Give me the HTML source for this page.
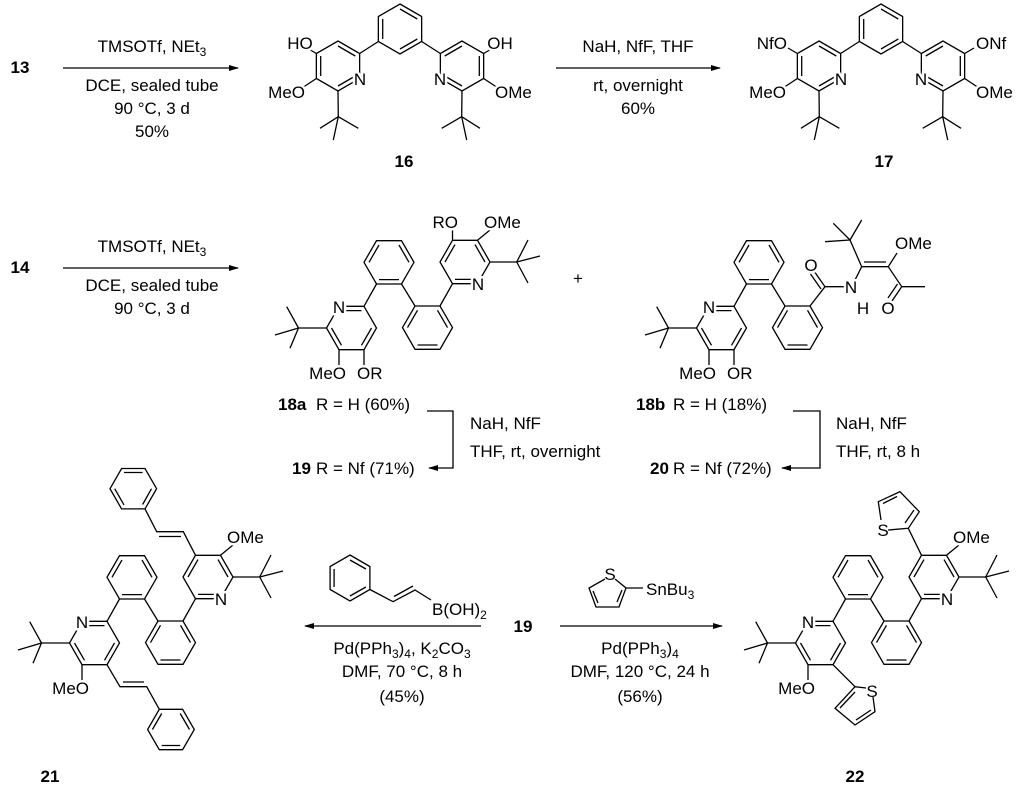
<!DOCTYPE html>
<html><head><meta charset="utf-8"><style>
body{margin:0;background:#fff}
svg{display:block}
text{font-family:"Liberation Sans",Arial,sans-serif;font-size:17px;fill:#000}
.l{stroke:#fff;stroke-width:5;paint-order:stroke}
.b{font-weight:bold}
line,polyline,polygon,path{stroke:#000;stroke-width:1.3;fill:none}
</style></head><body>
<svg width="1024" height="787" viewBox="0 0 1024 787" xmlns="http://www.w3.org/2000/svg">
<defs>
<marker id="ah" markerWidth="10" markerHeight="6" refX="9" refY="3" orient="auto" markerUnits="userSpaceOnUse"><path d="M0,0 L10,3 L0,6 Z" style="fill:#000;stroke:none"/></marker>
<!-- half of 16 (left pyridine) -->
<g id="pyL">
<polygon points="338,41 359.65,53.5 359.65,78.5 338,91 316.35,78.5 316.35,53.5"/>
<line x1="338" y1="46" x2="355.3" y2="56"/><line x1="320.7" y1="56" x2="320.7" y2="76"/><line x1="338" y1="86" x2="355.3" y2="76"/>
<line x1="359.65" y1="53.5" x2="378.35" y2="41.5"/>
<line x1="316.35" y1="53.5" x2="307" y2="48"/>
<line x1="316.35" y1="78.5" x2="302" y2="88"/>
<line x1="338" y1="91" x2="338.3" y2="116.7"/>
<line x1="338.3" y1="116.7" x2="320" y2="128.3"/><line x1="338.3" y1="116.7" x2="358.3" y2="128.3"/><line x1="338.3" y1="116.7" x2="333.3" y2="140"/>
<text x="360" y="85" text-anchor="middle" class="l">N</text>
<text x="305" y="98" text-anchor="end" class="l">MeO</text>
</g>
<g id="m16">
<polygon points="400,4 421.65,16.5 421.65,41.5 400,54 378.35,41.5 378.35,16.5"/>
<line x1="400" y1="9" x2="417.3" y2="19"/><line x1="417.3" y1="39" x2="400" y2="49"/><line x1="382.7" y1="39" x2="382.7" y2="19"/>
<use href="#pyL"/>
<g transform="translate(800,0) scale(-1,1)">
<polygon points="338,41 359.65,53.5 359.65,78.5 338,91 316.35,78.5 316.35,53.5"/>
<line x1="338" y1="46" x2="355.3" y2="56"/><line x1="320.7" y1="56" x2="320.7" y2="76"/><line x1="338" y1="86" x2="355.3" y2="76"/>
<line x1="359.65" y1="53.5" x2="378.35" y2="41.5"/>
<line x1="316.35" y1="53.5" x2="307" y2="48"/>
<line x1="316.35" y1="78.5" x2="302" y2="88"/>
<line x1="338" y1="91" x2="338.3" y2="116.7"/>
<line x1="338.3" y1="116.7" x2="320" y2="128.3"/><line x1="338.3" y1="116.7" x2="358.3" y2="128.3"/><line x1="338.3" y1="116.7" x2="333.3" y2="140"/>
</g>
<text x="440" y="85" text-anchor="middle" class="l">N</text>
<text x="495" y="98" class="l">OMe</text>
</g>
<!-- biaryl core with lower-left pyridine -->
<g id="coreA">
<polygon points="376.5,240.7 401.5,240.7 414,262.3 401.5,284 376.5,284 364,262.3"/>
<line x1="379" y1="279.6" x2="399" y2="279.6"/><line x1="369" y1="262.3" x2="379" y2="245"/><line x1="399" y1="245" x2="409" y2="262.3"/>
<polygon points="415,306 440,306 452.5,327.6 440,349.3 415,349.3 402.5,327.6"/>
<line x1="407.5" y1="327.6" x2="417.5" y2="310.3"/><line x1="437.5" y1="310.3" x2="447.5" y2="327.6"/><line x1="437.5" y1="345" x2="417.5" y2="345"/>
<line x1="401.5" y1="284" x2="415" y2="306"/>
<line x1="376.5" y1="284" x2="364" y2="306.3"/>
<polygon points="364,306.3 376.5,328 364,349.7 339,349.7 326.5,328 339,306.3"/>
<line x1="361.5" y1="310.6" x2="341.5" y2="310.6"/><line x1="371.5" y1="328" x2="361.5" y2="345.3"/><line x1="341.5" y1="345.3" x2="331.5" y2="328"/>
<line x1="326.5" y1="328" x2="298.5" y2="328"/>
<line x1="298.5" y1="328" x2="286.7" y2="306.7"/><line x1="298.5" y1="328" x2="275" y2="335"/><line x1="298.5" y1="328" x2="290" y2="348.3"/>
<line x1="339" y1="349.7" x2="339" y2="366"/>
<text x="339" y="313" text-anchor="middle" class="l">N</text>
<text x="346" y="379" text-anchor="end" class="l">MeO</text>
</g>
<g id="coreB">
<line x1="440" y1="306" x2="452.5" y2="283.7"/>
<polygon points="452.5,240.3 477.5,240.3 490,262 477.5,283.7 452.5,283.7 440,262"/>
<line x1="455" y1="279.4" x2="475" y2="279.4"/><line x1="445" y1="262" x2="455" y2="244.6"/><line x1="475" y1="244.6" x2="485" y2="262"/>
<line x1="477.5" y1="240.3" x2="490" y2="230"/>
<line x1="490" y1="262" x2="516.7" y2="262"/>
<line x1="516.7" y1="262" x2="528" y2="240"/><line x1="516.7" y1="262" x2="540" y2="256"/><line x1="516.7" y1="262" x2="528" y2="283"/>
<text x="478" y="290" text-anchor="middle" class="l">N</text>
<text x="484" y="228" class="l">OMe</text>
</g>
<g id="orLow">
<line x1="364" y1="349.7" x2="364" y2="366"/>
<text x="357" y="379" class="l">OR</text>
</g>
</defs>

<!-- Row 1 -->
<text x="20" y="73" text-anchor="middle" class="b">13</text>
<line x1="63" y1="68" x2="238" y2="68" marker-end="url(#ah)"/>
<text x="152" y="52" text-anchor="middle">TMSOTf, NEt<tspan font-size="12" dy="4">3</tspan></text>
<text x="152" y="91" text-anchor="middle">DCE, sealed tube</text>
<text x="152" y="114" text-anchor="middle">90 °C, 3 d</text>
<text x="152" y="137" text-anchor="middle">50%</text>

<use href="#m16"/>
<text x="300" y="49" text-anchor="middle" class="l">HO</text>
<text x="500" y="49" text-anchor="middle" class="l">OH</text>
<text x="404" y="167" text-anchor="middle" class="b">16</text>

<line x1="556" y1="68" x2="720" y2="68" marker-end="url(#ah)"/>
<text x="638" y="52" text-anchor="middle">NaH, NfF, THF</text>
<text x="638" y="91" text-anchor="middle">rt, overnight</text>
<text x="638" y="114" text-anchor="middle">60%</text>

<g transform="translate(481,0)"><use href="#m16"/></g>
<text x="787" y="49" text-anchor="end" class="l">NfO</text>
<text x="976" y="49" class="l">ONf</text>
<text x="884" y="167" text-anchor="middle" class="b">17</text>

<!-- Row 2 -->
<text x="20" y="273" text-anchor="middle" class="b">14</text>
<line x1="63" y1="268" x2="238" y2="268" marker-end="url(#ah)"/>
<text x="152" y="252" text-anchor="middle">TMSOTf, NEt<tspan font-size="12" dy="4">3</tspan></text>
<text x="152" y="291" text-anchor="middle">DCE, sealed tube</text>
<text x="152" y="314" text-anchor="middle">90 °C, 3 d</text>

<use href="#coreA"/><use href="#coreB"/><use href="#orLow"/>
<line x1="452.5" y1="240.3" x2="452.5" y2="230"/>
<text x="458" y="228" text-anchor="end" class="l">RO</text>

<text x="578" y="284" text-anchor="middle">+</text>

<g transform="translate(370,0)"><use href="#coreA"/><use href="#orLow"/></g>
<!-- amide side of 18b -->
<line x1="810" y1="306" x2="825" y2="286.7"/>
<line x1="825" y1="286.7" x2="814" y2="271"/><line x1="821" y1="289" x2="810.5" y2="274"/>
<text x="811" y="271" text-anchor="middle" class="l">O</text>
<line x1="825" y1="286.7" x2="844" y2="286.7"/>
<line x1="855" y1="280" x2="861.7" y2="266.7"/>
<line x1="861.7" y1="266.7" x2="888.3" y2="266.7"/><line x1="864" y1="262" x2="886" y2="262"/>
<line x1="861.7" y1="266.7" x2="850" y2="240"/>
<line x1="850" y1="240" x2="825" y2="241.7"/><line x1="850" y1="240" x2="833.3" y2="223.3"/><line x1="850" y1="240" x2="861.7" y2="220"/>
<line x1="888.3" y1="266.7" x2="897" y2="253"/>
<text x="895" y="249" class="l">OMe</text>
<line x1="888.3" y1="266.7" x2="901.7" y2="286.7"/>
<line x1="901.7" y1="286.7" x2="925" y2="286.7"/>
<line x1="901.7" y1="286.7" x2="892" y2="301"/><line x1="897.5" y1="284" x2="888" y2="298"/>
<text x="888" y="314" text-anchor="middle" class="l">O</text>
<text x="851" y="293" text-anchor="middle" class="l">N</text>
<text x="863" y="314" text-anchor="middle" class="l">H</text>

<!-- yields row -->
<text x="278" y="410" class="b">18a</text>
<text x="316" y="410">R = H (60%)</text>
<text x="292" y="474" class="b">19</text>
<text x="316" y="474">R = Nf (71%)</text>
<polyline points="427,411 453,411 453,468 429,468" marker-end="url(#ah)"/>
<text x="470" y="429">NaH, NfF</text>
<text x="470" y="457">THF, rt, overnight</text>

<text x="636" y="410" class="b">18b</text>
<text x="673" y="410">R = H (18%)</text>
<text x="650" y="474" class="b">20</text>
<text x="673" y="474">R = Nf (72%)</text>
<polyline points="793,411 820,411 820,468 782,468" marker-end="url(#ah)"/>
<text x="836" y="429">NaH, NfF</text>
<text x="836" y="457">THF, rt, 8 h</text>

<!-- Row 3 -->
<g transform="translate(-257,315)"><use href="#coreA"/><use href="#coreB"/></g>
<!-- styryls of 21 -->
<polyline points="195.5,555.3 183.3,531.7 156.7,531.7 145,508.9"/>
<line x1="181" y1="536.5" x2="159" y2="536.5"/>
<polygon points="121.6,468.5 145,468.5 156.6,488.7 145,508.9 121.6,508.9 110,488.7"/>
<line x1="124" y1="472.5" x2="142.6" y2="472.5"/><line x1="151.5" y1="488.7" x2="142.6" y2="504.5"/><line x1="114.5" y1="488.7" x2="124" y2="504.5" style="display:none"/><line x1="124" y1="504.9" x2="114.7" y2="488.7"/>
<polyline points="107,664.7 120,686.7 146.7,686.7 159.3,709.3"/>
<line x1="123" y1="682" x2="144" y2="682"/>
<polygon points="159.3,709.3 182.6,709.3 194.3,729.5 182.6,749.7 159.3,749.7 147.6,729.5"/>
<line x1="180.2" y1="713.5" x2="189.5" y2="729.5"/><line x1="180.2" y1="745.5" x2="161.7" y2="745.5"/><line x1="152.4" y1="729.5" x2="161.7" y2="713.5"/>
<text x="50" y="782" text-anchor="middle" class="b">21</text>

<!-- reagents/arrows -->
<polygon points="350,555 369.9,566.5 369.9,589.5 350,601 330.1,589.5 330.1,566.5"/>
<line x1="350" y1="560" x2="365.9" y2="569"/><line x1="365.9" y1="587" x2="350" y2="596"/><line x1="334.1" y1="587" x2="334.1" y2="569"/>
<polyline points="369.9,589.5 393,601.7 415,590 431,600"/>
<line x1="394" y1="596.5" x2="413" y2="586"/>
<text x="432" y="615">B(OH)<tspan font-size="12" dy="4">2</tspan></text>
<line x1="481" y1="626" x2="305" y2="626" marker-end="url(#ah)"/>
<text x="402" y="654" text-anchor="middle">Pd(PPh<tspan font-size="12" dy="4">3</tspan><tspan dy="-4">)</tspan><tspan font-size="12" dy="4">4</tspan><tspan dy="-4">, K</tspan><tspan font-size="12" dy="4">2</tspan><tspan dy="-4">CO</tspan><tspan font-size="12" dy="4">3</tspan></text>
<text x="402" y="677" text-anchor="middle">DMF, 70 °C, 8 h</text>
<text x="402" y="702" text-anchor="middle">(45%)</text>
<text x="523" y="632" text-anchor="middle" class="b">19</text>
<line x1="560" y1="626" x2="722" y2="626" marker-end="url(#ah)"/>
<polyline points="605,579 589,588 596,607 619,607 626,588 615,579"/>
<line x1="593" y1="591" x2="598" y2="603"/><line x1="617" y1="602" x2="622" y2="590"/>
<line x1="626" y1="588" x2="643" y2="588"/>
<text x="610" y="580" text-anchor="middle">S</text>
<text x="646" y="595">SnBu<tspan font-size="12" dy="4">3</tspan></text>
<text x="640" y="654" text-anchor="middle">Pd(PPh<tspan font-size="12" dy="4">3</tspan><tspan dy="-4">)</tspan><tspan font-size="12" dy="4">4</tspan></text>
<text x="640" y="677" text-anchor="middle">DMF, 120 °C, 24 h</text>
<text x="640" y="702" text-anchor="middle">(56%)</text>

<g transform="translate(469,315)"><use href="#coreA"/><use href="#coreB"/></g>
<!-- thiophenes of 22 -->
<line x1="921.5" y1="555.3" x2="908.3" y2="528.3"/>
<polyline points="888,530 908.3,528.3 919.3,511.7 900,491.7 878.3,501.7 881,520"/>
<line x1="905" y1="523" x2="914" y2="510"/><line x1="897" y1="496.5" x2="883" y2="503.5"/>
<text x="883" y="536" text-anchor="middle">S</text>
<line x1="833" y1="664.7" x2="855" y2="686.7"/>
<polyline points="866,688 855,686.7 835,708.3 855,725 875,711.7 873,697"/>
<line x1="855" y1="692" x2="840" y2="708"/><line x1="856" y1="720" x2="871" y2="710"/>
<text x="872" y="697" text-anchor="middle">S</text>
<text x="855" y="782" text-anchor="middle" class="b">22</text>
</svg>
</body></html>
